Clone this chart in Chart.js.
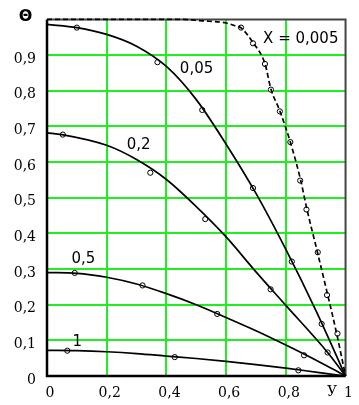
<!DOCTYPE html>
<html>
<head>
<meta charset="utf-8">
<script src="https://cdn.jsdelivr.net/npm/chart.js@4"></script>
<style>
    body { margin: 0; background: #fff; }
</style>
</head>
<body>
<canvas id="chart" width="359" height="405"></canvas>
<script>
// Courbes Θ(Y) pour chaque X
const curveNames = ["X = 0,005", "0,05", "0,2", "0,5", "1"];

const lineY_005 = [0, 0.45, 0.52, 0.6, 0.63, 0.65, 0.69, 0.73, 0.75, 0.78, 0.815, 0.85, 0.87, 0.905, 0.94, 0.97, 1];
const lineT_005 = [1, 1, 0.996, 0.99, 0.982, 0.976, 0.935, 0.876, 0.805, 0.743, 0.656, 0.548, 0.47, 0.35, 0.228, 0.12, 0];
const markY_005 = [0.65, 0.69, 0.73, 0.75, 0.78, 0.815, 0.848, 0.869, 0.907, 0.938, 0.973];
const markT_005 = [0.977, 0.933, 0.875, 0.803, 0.742, 0.656, 0.548, 0.467, 0.347, 0.227, 0.119];

const lineY_05 = [0, 0.1, 0.2, 0.3, 0.4, 0.5, 0.6, 0.7, 0.8, 0.9, 1];
const lineT_05 = [0.986, 0.977, 0.958, 0.925, 0.868, 0.775, 0.65, 0.512, 0.355, 0.185, 0];
const markY_05 = [0.1, 0.37, 0.52, 0.69, 0.82, 0.92];
const markT_05 = [0.977, 0.88, 0.746, 0.527, 0.321, 0.146];

const lineY_2 = [0, 0.05, 0.2, 0.3, 0.4, 0.5, 0.6, 0.7, 0.8, 0.94, 1];
const lineT_2 = [0.682, 0.677, 0.647, 0.607, 0.551, 0.475, 0.39, 0.292, 0.198, 0.066, 0];
const markY_2 = [0.053, 0.346, 0.53, 0.749, 0.94];
const markT_2 = [0.677, 0.57, 0.44, 0.243, 0.066];

const lineY_5 = [0, 0.1, 0.2, 0.3, 0.4, 0.5, 0.6, 0.7, 0.8, 0.9, 1];
const lineT_5 = [0.29, 0.288, 0.277, 0.258, 0.231, 0.2, 0.164, 0.127, 0.087, 0.045, 0];
const markY_5 = [0.093, 0.32, 0.57, 0.861];
const markT_5 = [0.289, 0.254, 0.174, 0.058];

const lineY_1 = [0, 0.1, 0.2, 0.3, 0.4, 0.5, 0.6, 0.7, 0.8, 0.9, 1];
const lineT_1 = [0.072, 0.071, 0.068, 0.063, 0.056, 0.049, 0.041, 0.032, 0.022, 0.011, 0];
const markY_1 = [0.068, 0.428, 0.842];
const markT_1 = [0.071, 0.053, 0.016];

// Position des étiquettes (en unités du graphique)
const labelY = [0.85, 0.501, 0.307, 0.122, 0.101];
const labelT = [0.945, 0.86, 0.647, 0.327, 0.096];

const GREEN = "#1fef1f";

function toPoints(xs, ys) {
    return xs.map((x, i) => ({ x: x, y: ys[i] }));
}

function lineSet(xs, ys, dashed) {
    return {
        data: toPoints(xs, ys),
        showLine: true,
        borderColor: "#000",
        borderWidth: 1.7,
        borderDash: dashed ? [5, 3] : [],
        pointRadius: 0,
        cubicInterpolationMode: "monotone",
        clip: 4,
    };
}

function markSet(xs, ys) {
    return {
        data: toPoints(xs, ys),
        showLine: false,
        pointStyle: "circle",
        pointRadius: 2.6,
        pointBackgroundColor: "#fff",
        pointBorderColor: "#000",
        pointBorderWidth: 1,
        clip: 4,
    };
}

function fmt(v) {
    return String(+v.toFixed(1)).replace(".", ",");
}

// Cadre et textes
const decorPlugin = {
    id: "decor",
    beforeDatasetsDraw(chart) {
        const { ctx, chartArea: a } = chart;
        ctx.save();
        ctx.strokeStyle = "#444";
        ctx.lineWidth = 2;
        ctx.beginPath();
        ctx.moveTo(a.left, a.top);
        ctx.lineTo(a.right, a.top);
        ctx.lineTo(a.right, a.bottom);
        ctx.stroke();
        ctx.strokeStyle = "#000";
        ctx.lineWidth = 2.5;
        ctx.beginPath();
        ctx.moveTo(a.left, a.top);
        ctx.lineTo(a.left, a.bottom);
        ctx.lineTo(a.right, a.bottom);
        ctx.stroke();
        ctx.restore();
    },
    afterDatasetsDraw(chart) {
        const { ctx, scales } = chart;
        ctx.save();
        ctx.fillStyle = "#000";
        ctx.textAlign = "center";
        ctx.textBaseline = "middle";
        ctx.font = "15px 'DejaVu Sans'";
        curveNames.forEach((name, i) => {
            ctx.fillText(name, scales.x.getPixelForValue(labelY[i]), scales.y.getPixelForValue(labelT[i]));
        });
        ctx.font = "bold 16px 'DejaVu Sans'";
        ctx.fillText("Θ", 25.5, 17);
        ctx.font = "14px 'DejaVu Serif'";
        ctx.fillText("У", 332, 392);
        ctx.restore();
    },
};

new Chart(document.getElementById("chart"), {
    type: "scatter",
    data: {
        datasets: [
            lineSet(lineY_005, lineT_005, true),
            lineSet(lineY_05, lineT_05, false),
            lineSet(lineY_2, lineT_2, false),
            lineSet(lineY_5, lineT_5, false),
            lineSet(lineY_1, lineT_1, false),
            markSet(markY_005, markT_005),
            markSet(markY_05, markT_05),
            markSet(markY_2, markT_2),
            markSet(markY_5, markT_5),
            markSet(markY_1, markT_1),
        ],
    },
    options: {
        responsive: false,
        animation: false,
        devicePixelRatio: 1,
        layout: { padding: { top: 6, right: 8, left: 0, bottom: 0 } },
        plugins: {
            legend: { display: false },
            tooltip: { enabled: false },
        },
        scales: {
            x: {
                type: "linear",
                min: 0,
                max: 1,
                afterFit(scale) { scale.height = 29; },
                border: { display: false },
                grid: {
                    drawTicks: false,
                    lineWidth: 2,
                    color: (c) => (c.tick && (c.tick.value === 0 || c.tick.value === 1)) ? "rgba(0,0,0,0)" : GREEN,
                },
                ticks: {
                    stepSize: 0.2,
                    padding: 9,
                    labelOffset: 3,
                    color: "#000",
                    font: { family: "DejaVu Serif", size: 14 },
                    callback: (v) => fmt(v),
                },
            },
            y: {
                type: "linear",
                min: 0,
                max: 1,
                afterFit(scale) { scale.width = 47; },
                border: { display: false },
                grid: {
                    drawTicks: false,
                    lineWidth: 2,
                    color: (c) => (c.tick && (c.tick.value === 0 || c.tick.value === 1)) ? "rgba(0,0,0,0)" : GREEN,
                },
                ticks: {
                    stepSize: 0.1,
                    padding: 11,
                    labelOffset: 4,
                    color: "#000",
                    font: { family: "DejaVu Serif", size: 14 },
                    callback: (v) => (v === 1 ? "" : fmt(v)),
                },
            },
        },
    },
    plugins: [decorPlugin],
});
</script>
</body>
</html>
